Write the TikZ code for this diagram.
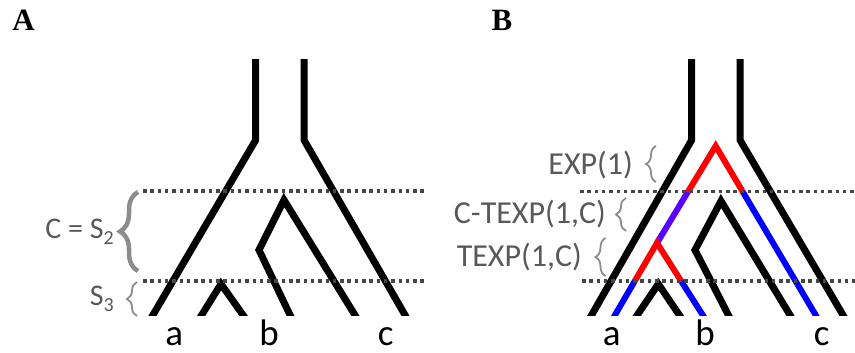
\documentclass[tikz,border=0pt]{standalone}
\usepackage{fontspec}
\setmainfont{Carlito}
\newfontfamily\panelfont{Liberation Serif}
\usetikzlibrary{decorations.pathreplacing}
\definecolor{txtgray}{RGB}{89,89,89}
\definecolor{brgray}{RGB}{140,140,140}
\definecolor{dotgray}{RGB}{70,70,70}
\definecolor{myred}{RGB}{255,0,0}
\definecolor{myblue}{RGB}{0,0,255}
\definecolor{mypurple}{RGB}{90,0,255}
\newcommand{\sbs}[1]{\raisebox{-6pt}{\fontsize{20}{20}\selectfont #1}}
\begin{document}
\begin{tikzpicture}[x=1pt,y=-1pt,
  branch/.style={line width=7pt, black},
  cbranch/.style={line width=6pt},
  level/.style={dotgray, line width=3.5pt, dash pattern=on 3.5pt off 3.8pt},
  lab/.style={font=\fontsize{37}{40}\selectfont, anchor=base, inner sep=0pt},
  note/.style={font=\fontsize{30}{34}\selectfont, text=txtgray, anchor=base east, inner sep=0pt},
  noteb/.style={note, font=\fontsize{32}{36}\selectfont},
  thinbrace/.style={decorate, decoration={brace, amplitude=10pt}, brgray, line width=1.8pt},
  bigbrace/.style={decorate, decoration={brace, amplitude=18pt}, brgray, line width=4.5pt},
  panel/.style={font=\panelfont\bfseries\fontsize{31}{33}\selectfont, inner sep=0pt}]
\useasboundingbox (0,0) rectangle (855,353);

% ---------- coordinates, panel A ----------
\coordinate (aLt) at (255.7,55);
\coordinate (aLb) at (255.7,140);
\coordinate (aLe) at (150.0,320);
\coordinate (aRt) at (304,55);
\coordinate (aRb) at (304,140);
\coordinate (aRe) at (407.9,320);
\coordinate (aIp) at (284,200);
\coordinate (aIr) at (358,320);
\coordinate (aIk) at (259,250);
\coordinate (aIl) at (292.4,320);
\coordinate (aSp) at (221,284);
\coordinate (aSl) at (198.6,320);
\coordinate (aSr) at (246.5,320);

% ---------- coordinates, panel B ----------
\coordinate (bLt) at (691.7,55);
\coordinate (bLb) at (691.7,140);
\coordinate (bLe) at (588.8,320);
\coordinate (bRt) at (740,55);
\coordinate (bRb) at (740,140);
\coordinate (bRe) at (845.9,320);
\coordinate (bIp) at (721,201);
\coordinate (bIr) at (793,320);
\coordinate (bIk) at (695,250);
\coordinate (bIl) at (730.9,320);
\coordinate (bSp) at (658.3,284);
\coordinate (bSl) at (633.9,320);
\coordinate (bSr) at (682.7,320);
% coloured gene tree
\coordinate (gTop) at (715.7,146);
\coordinate (gL1) at (688,191.7);
\coordinate (gR1) at (742.7,191.7);
\coordinate (gRe) at (818.6,320);
\coordinate (gIn) at (657,243);
\coordinate (gIl) at (634.8,281);
\coordinate (gIle) at (612.1,320);
\coordinate (gIr) at (681.1,281);
\coordinate (gIre) at (705.9,320);

\begin{scope}
  \clip (0,60) rectangle (855,315);
  % panel A species tree
  \draw[branch] (aLt) -- (aLb) -- (aLe);
  \draw[branch] (aRt) -- (aRb) -- (aRe);
  \draw[branch] (aIr) -- (aIp) -- (aIk) -- (aIl);
  \draw[branch] (aSl) -- (aSp) -- (aSr);
  % panel B species tree
  \draw[branch] (bLt) -- (bLb) -- (bLe);
  \draw[branch] (bRt) -- (bRb) -- (bRe);
  \draw[branch] (bIr) -- (bIp) -- (bIk) -- (bIl);
  \draw[branch] (bSl) -- (bSp) -- (bSr);
  % panel B gene tree
  \draw[cbranch, mypurple] (gL1) -- (gIn);
  \draw[cbranch, myred] (gL1) -- (gTop) -- (gR1);
  \draw[cbranch, myblue] (gR1) -- (gRe);
  \draw[cbranch, myred] (gIl) -- (gIn) -- (gIr);
  \draw[cbranch, myblue] (gIl) -- (gIle);
  \draw[cbranch, myblue] (gIr) -- (gIre);
\end{scope}

% time slices
\coordinate (dA1s) at (143,191);
\coordinate (dA1e) at (424,191);
\coordinate (dA2s) at (143,281);
\coordinate (dA2e) at (426,281);
\coordinate (dB1s) at (580,191.7);
\coordinate (dB1e) at (855,191.7);
\coordinate (dB2s) at (582,281);
\coordinate (dB2e) at (855,281);
\draw[level] (dA1s) -- (dA1e);
\draw[level] (dA2s) -- (dA2e);
\draw[level] (dB1s) -- (dB1e);
\draw[level] (dB2s) -- (dB2e);

% braces
\coordinate (brAb) at (138,271);
\coordinate (brAt) at (138,192);
\coordinate (brSb) at (137,316);
\coordinate (brSt) at (137,282);
\coordinate (brEb) at (656,182);
\coordinate (brEt) at (656,146);
\coordinate (brCb) at (626,231);
\coordinate (brCt) at (626,198);
\coordinate (brTb) at (605.5,276);
\coordinate (brTt) at (605.5,238);
\draw[bigbrace] (brAb) -- (brAt);
\draw[thinbrace] (brSb) -- (brSt);
\draw[thinbrace] (brEb) -- (brEt);
\draw[thinbrace] (brCb) -- (brCt);
\draw[thinbrace] (brTb) -- (brTt);

% texts
\node[panel] (pA) at (23.5,20) {A};
\node[panel] (pB) at (502,20) {B};
\node[note] (cs2) at (114,238) {C = S\sbs{2}};
\node[note] (s3) at (114,305) {S\sbs{3}};
\node[noteb] (exp) at (633,174.3) {EXP(1)};
\node[noteb] (ctexp) at (606,223.3) {C-TEXP(1,C)};
\node[noteb] (texp) at (582,266.7) {TEXP(1,C)};
\node[lab] (la) at (174.3,345) {a};
\node[lab] (lb) at (269.2,345) {b};
\node[lab] (lc) at (385.8,345) {c};
\node[lab] (lba) at (611.7,345) {a};
\node[lab] (lbb) at (705,345) {b};
\node[lab] (lbc) at (821.7,345) {c};
\end{tikzpicture}
\end{document}
